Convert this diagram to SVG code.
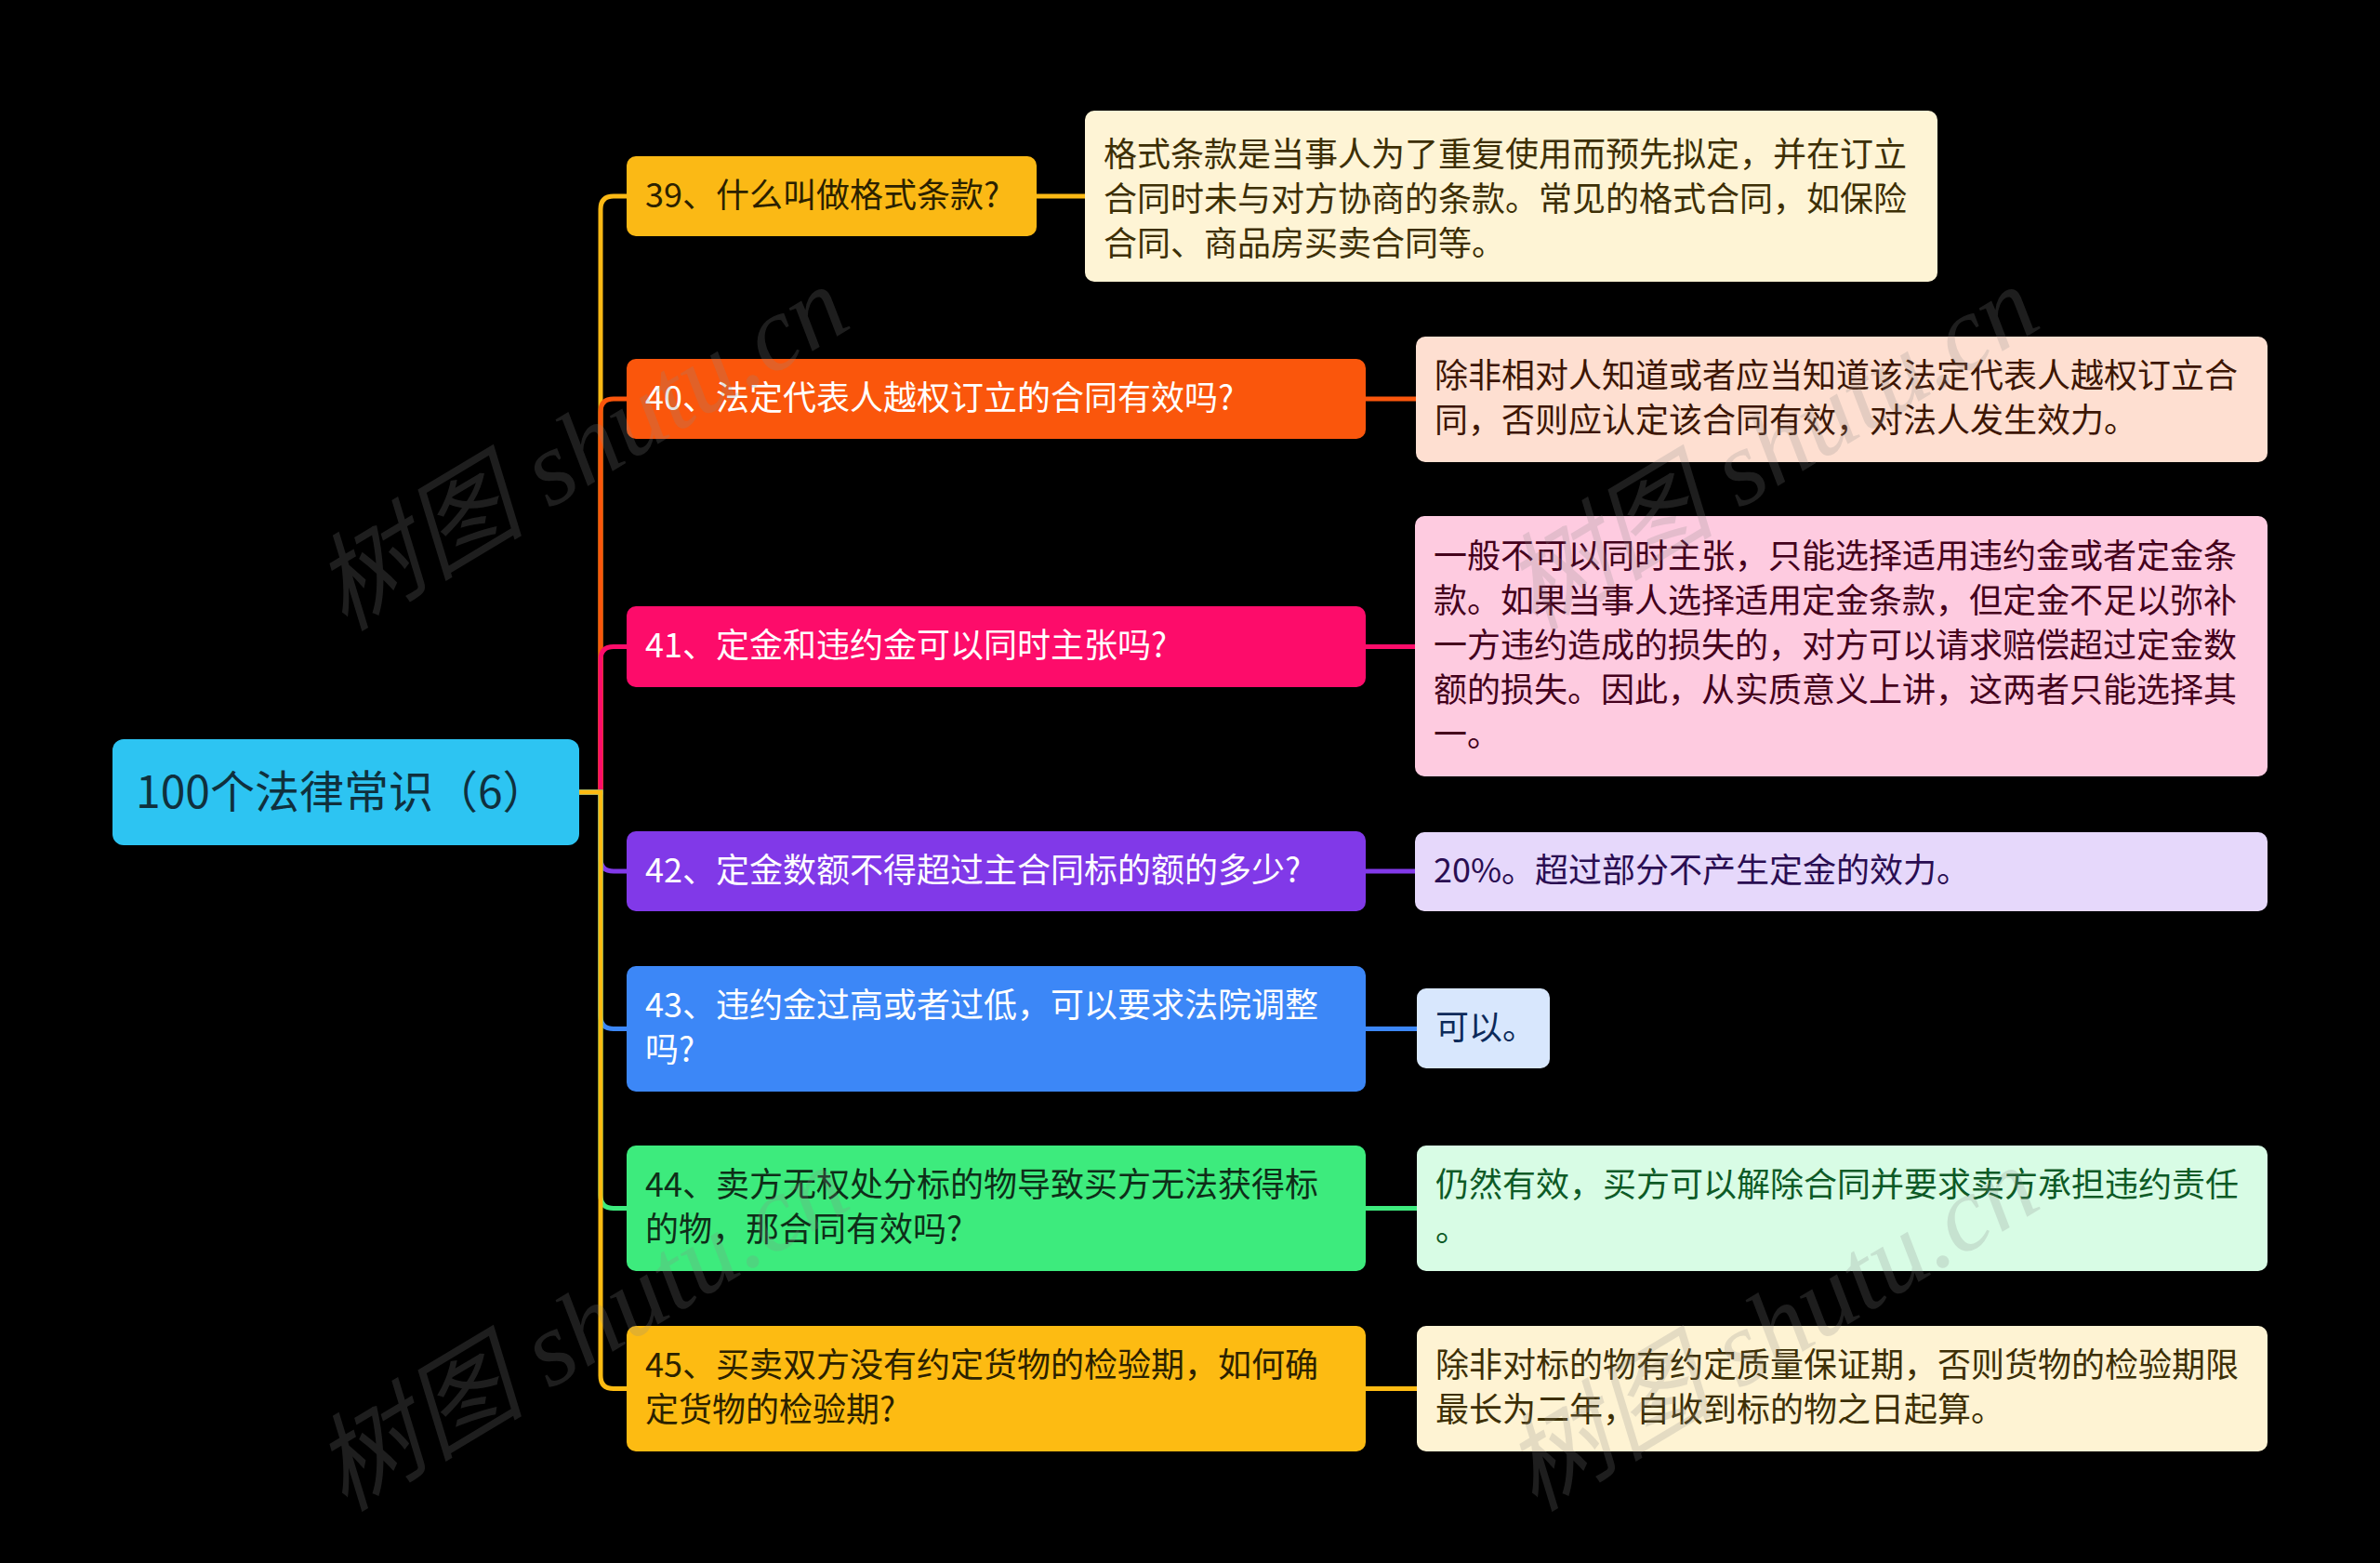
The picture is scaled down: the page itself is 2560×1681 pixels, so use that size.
<svg xmlns="http://www.w3.org/2000/svg" width="2560" height="1681" viewBox="0 0 2560 1681">
<style>
text{font-family:"Noto Sans CJK SC","Noto Sans",sans-serif;font-size:36px;}
.root text{font-size:48px;fill:#10303d;}
.c{fill:none;stroke-width:5;stroke-linecap:round;}
.wm{font-family:"Liberation Serif","Noto Sans CJK SC",serif;font-style:italic;font-size:114px;fill:#8a8a8a;opacity:0.22;}
</style>
<rect width="2560" height="1681" fill="#000"/>
<g id="connectors">
<path class="c" stroke="#FBB915" d="M623,852H646V225Q646,211 660,211H674"/>
<path class="c" stroke="#FA560C" d="M623,852H646V443Q646,429 660,429H674"/>
<path class="c" stroke="#FD0C6A" d="M623,852H646V709.5Q646,695.5 660,695.5H674"/>
<path class="c" stroke="#8139E8" d="M623,852H646V923Q646,937 660,937H674"/>
<path class="c" stroke="#3C87F7" d="M623,852H646V1092.5Q646,1106.5 660,1106.5H674"/>
<path class="c" stroke="#3DEB7D" d="M623,852H646V1285.5Q646,1299.5 660,1299.5H674"/>
<path class="c" stroke="#FDBB12" d="M623,852H646V1479.5Q646,1493.5 660,1493.5H674"/>
<path class="c" stroke="#FBB915" d="M1115,211H1167"/>
<path class="c" stroke="#FA560C" d="M1469,429H1523"/>
<path class="c" stroke="#FD0C6A" d="M1469,695.5H1522"/>
<path class="c" stroke="#8139E8" d="M1469,937H1522"/>
<path class="c" stroke="#3C87F7" d="M1469,1106.5H1524"/>
<path class="c" stroke="#3DEB7D" d="M1469,1299.5H1524"/>
<path class="c" stroke="#FDBB12" d="M1469,1493.5H1524"/>
</g>
<g id="root" class="root">
<rect x="121" y="795" width="502" height="114" rx="12" fill="#2DC4F2"/>
<text x="146" y="869">100个法律常识（6）</text>
</g>
<g id="n39">
<rect x="674" y="168" width="441" height="86" rx="10" fill="#FBB915"/>
<text x="694" y="223" fill="#2b2100">39、什么叫做格式条款?</text>
</g>
<g id="d39">
<rect x="1167" y="119" width="917" height="184" rx="10" fill="#FEF4D5"/>
<text fill="#3d2f05"><tspan x="1187" y="179">格式条款是当事人为了重复使用而预先拟定，并在订立</tspan><tspan x="1187" y="227">合同时未与对方协商的条款。常见的格式合同，如保险</tspan><tspan x="1187" y="275">合同、商品房买卖合同等。</tspan></text>
</g>
<g id="n40">
<rect x="674" y="386" width="795" height="86" rx="10" fill="#FA560C"/>
<text x="694" y="441" fill="#fff">40、法定代表人越权订立的合同有效吗?</text>
</g>
<g id="d40">
<rect x="1523" y="362" width="916" height="135" rx="10" fill="#FEDFD1"/>
<text fill="#3d1604"><tspan x="1543" y="417">除非相对人知道或者应当知道该法定代表人越权订立合</tspan><tspan x="1543" y="465">同，否则应认定该合同有效，对法人发生效力。</tspan></text>
</g>
<g id="n41">
<rect x="674" y="652" width="795" height="87" rx="10" fill="#FD0C6A"/>
<text x="694" y="707" fill="#fff">41、定金和违约金可以同时主张吗?</text>
</g>
<g id="d41">
<rect x="1522" y="555" width="917" height="280" rx="10" fill="#FECBE0"/>
<text fill="#44001c"><tspan x="1542" y="611">一般不可以同时主张，只能选择适用违约金或者定金条</tspan><tspan x="1542" y="659">款。如果当事人选择适用定金条款，但定金不足以弥补</tspan><tspan x="1542" y="707">一方违约造成的损失的，对方可以请求赔偿超过定金数</tspan><tspan x="1542" y="755">额的损失。因此，从实质意义上讲，这两者只能选择其</tspan><tspan x="1542" y="803">一。</tspan></text>
</g>
<g id="n42">
<rect x="674" y="894" width="795" height="86" rx="10" fill="#8139E8"/>
<text x="694" y="949" fill="#fff">42、定金数额不得超过主合同标的额的多少?</text>
</g>
<g id="d42">
<rect x="1522" y="895" width="917" height="85" rx="10" fill="#E6D8FB"/>
<text x="1542" y="949" fill="#2a0d52">20%。超过部分不产生定金的效力。</text>
</g>
<g id="n43">
<rect x="674" y="1039" width="795" height="135" rx="10" fill="#3C87F7"/>
<text fill="#fff"><tspan x="694" y="1094">43、违约金过高或者过低，可以要求法院调整</tspan><tspan x="694" y="1142">吗?</tspan></text>
</g>
<g id="d43">
<rect x="1524" y="1063" width="143" height="86" rx="10" fill="#D8E7FD"/>
<text x="1544" y="1118" fill="#0c2a5a">可以。</text>
</g>
<g id="n44">
<rect x="674" y="1232" width="795" height="135" rx="10" fill="#3DEB7D"/>
<text fill="#0e2e18"><tspan x="694" y="1287">44、卖方无权处分标的物导致买方无法获得标</tspan><tspan x="694" y="1335">的物，那合同有效吗?</tspan></text>
</g>
<g id="d44">
<rect x="1524" y="1232" width="915" height="135" rx="10" fill="#D8FCE5"/>
<text fill="#0d5a26"><tspan x="1544" y="1287">仍然有效，买方可以解除合同并要求卖方承担违约责任</tspan><tspan x="1544" y="1335">。</tspan></text>
</g>
<g id="n45">
<rect x="674" y="1426" width="795" height="135" rx="10" fill="#FDBB12"/>
<text fill="#2b2100"><tspan x="694" y="1481">45、买卖双方没有约定货物的检验期，如何确</tspan><tspan x="694" y="1529">定货物的检验期?</tspan></text>
</g>
<g id="d45">
<rect x="1524" y="1426" width="915" height="135" rx="10" fill="#FEF3D3"/>
<text fill="#3d2f05"><tspan x="1544" y="1481">除非对标的物有约定质量保证期，否则货物的检验期限</tspan><tspan x="1544" y="1529">最长为二年，自收到标的物之日起算。</tspan></text>
</g>
<g id="watermark">
<text class="wm" transform="translate(645,515) rotate(-31)" text-anchor="middle">树图 shutu.cn</text>
<text class="wm" transform="translate(1925,515) rotate(-31)" text-anchor="middle">树图 shutu.cn</text>
<text class="wm" transform="translate(645,1462) rotate(-31)" text-anchor="middle">树图 shutu.cn</text>
<text class="wm" transform="translate(1925,1462) rotate(-31)" text-anchor="middle">树图 shutu.cn</text>
</g>
</svg>
